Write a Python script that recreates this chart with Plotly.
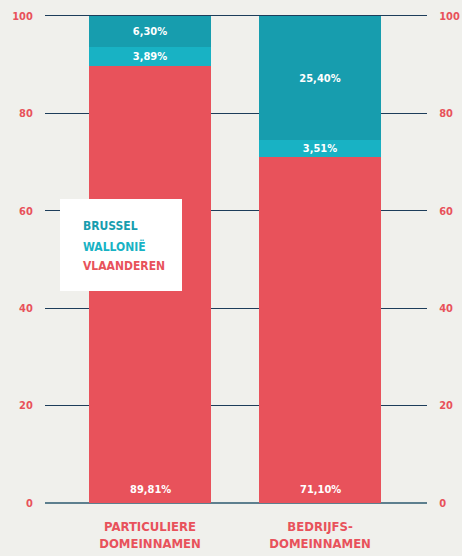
import plotly.graph_objects as go

categories = ["PARTICULIERE<br>DOMEINNAMEN", "BEDRIJFS-<br>DOMEINNAMEN"]
vlaanderen = [89.81, 71.10]
wallonie = [3.89, 3.51]
brussel = [6.30, 25.40]
tick_vals = [0, 20, 40, 60, 80, 100]

RED = "#E8525B"
CYAN = "#18B2C4"
TEAL = "#179DAE"
BG = "#F0F0EC"
GRID = "#1D3D5A"
FONT = "DejaVu Sans Condensed, sans-serif"

def fmt(v):
    return f"{v:.2f}".replace(".", ",") + "%"

fig = go.Figure()
x = [0, 1]
series = [
    ("VLAANDEREN", vlaanderen, RED, False),
    ("WALLONIË", wallonie, CYAN, True),
    ("BRUSSEL", brussel, TEAL, True),
]
bar_font = dict(family=FONT, size=11, color="white", weight="bold")
for name, vals, color, labelled in series:
    fig.add_trace(go.Bar(
        x=x, y=vals, name=name, marker=dict(color=color, line=dict(width=0)),
        width=0.718, text=[fmt(v) for v in vals] if labelled else None,
        textposition="inside", insidetextanchor="middle", textangle=0,
        textfont=bar_font, hoverinfo="skip", showlegend=False,
    ))

# bottom-segment values sit just above the baseline
for xi, v in zip(x, vlaanderen):
    fig.add_annotation(x=xi, y=0, text=fmt(v), showarrow=False,
                       yanchor="middle", yshift=14, font=bar_font)

# invisible trace so the right-hand axis renders
fig.add_trace(go.Scatter(x=[0], y=[0], yaxis="y2", mode="markers",
                         marker=dict(opacity=0), showlegend=False, hoverinfo="skip"))

y_range = [0, 100.4]
axis_font = dict(family=FONT, size=11, color=RED, weight="bold")
fig.update_layout(
    width=462, height=556,
    margin=dict(l=45, r=35, t=14, b=53),
    paper_bgcolor=BG, plot_bgcolor=BG,
    barmode="stack", bargap=0,
    showlegend=False,
    uniformtext=dict(minsize=11, mode="show"),
    xaxis=dict(range=[-0.618, 1.629], tickvals=x, ticktext=categories,
               tickfont=dict(family=FONT, size=13, color=RED, weight="bold"),
               showgrid=False, zeroline=False, showline=False, ticks="",
               ticklabelstandoff=14, automargin=False, fixedrange=True),
    yaxis=dict(range=y_range, tickvals=tick_vals, showgrid=True,
               gridcolor=GRID, gridwidth=1.3, zeroline=True,
               zerolinecolor="#5D7F8E", zerolinewidth=2,
               tickfont=axis_font, ticks="outside", ticklen=9,
               tickcolor="rgba(0,0,0,0)", showline=False, automargin=False),
    yaxis2=dict(range=y_range, tickvals=tick_vals, overlaying="y", side="right",
                showgrid=False, zeroline=False, tickfont=axis_font,
                ticks="outside", ticklen=9, tickcolor="rgba(0,0,0,0)",
                showline=False, automargin=False),
)

# legend box
top, bottom = 14, 53
plot_w = 462 - 45 - 35
plot_h = 556 - top - bottom
def px_x(p):
    return (p - 45) / plot_w
def px_y(p):
    return 1 - (p - top) / plot_h

fig.add_shape(type="rect", xref="paper", yref="paper",
              x0=px_x(60), x1=px_x(182), y0=px_y(291), y1=px_y(199),
              fillcolor="white", line=dict(width=0), layer="above")
for label, color, ypix in [("BRUSSEL", TEAL, 226), ("WALLONIË", CYAN, 246),
                           ("VLAANDEREN", RED, 266)]:
    fig.add_annotation(xref="paper", yref="paper", x=px_x(81), y=px_y(ypix),
                       text=label, showarrow=False, xanchor="left", yanchor="middle",
                       font=dict(family=FONT, size=12, color=color, weight="bold"))

fig.write_html("out.html")
